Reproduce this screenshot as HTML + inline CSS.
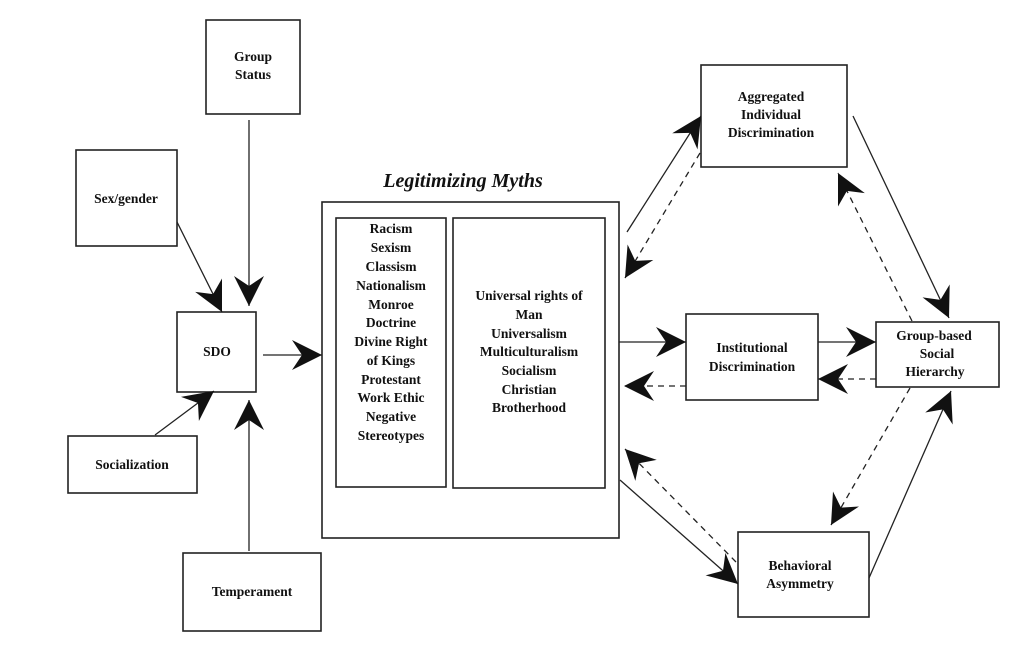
<!DOCTYPE html>
<html><head><meta charset="utf-8"><style>
body{margin:0;background:#fff}
svg{display:block}
text{font-family:"Liberation Serif",serif;font-weight:bold;font-size:13.5px;fill:#111;text-anchor:middle}
</style></head><body>
<svg width="1024" height="651" viewBox="0 0 1024 651" xmlns="http://www.w3.org/2000/svg">
<defs>
<marker id="a" markerUnits="userSpaceOnUse" markerWidth="44" markerHeight="44" refX="0" refY="0" viewBox="-34 -22 44 44" orient="auto">
<path d="M0,0 L-30,-15 L-20,0 L-30,15 Z" fill="#111"/>
</marker>
</defs>
<g fill="none" stroke="#222" stroke-width="1.6">
<rect x="206" y="20" width="94" height="94"/>
<rect x="76" y="150" width="101" height="96"/>
<rect x="177" y="312" width="79" height="80"/>
<rect x="68" y="436" width="129" height="57"/>
<rect x="183" y="553" width="138" height="78"/>
<rect x="322" y="202" width="297" height="336"/>
<rect x="336" y="218" width="110" height="269"/>
<rect x="453" y="218" width="152" height="270"/>
<rect x="701" y="65" width="146" height="102"/>
<rect x="686" y="314" width="132" height="86"/>
<rect x="876" y="322" width="123" height="65"/>
<rect x="738" y="532" width="131" height="85"/>
</g>
<g stroke="#222" stroke-width="1.3" fill="none" marker-end="url(#a)">
<line x1="249" y1="120" x2="249" y2="306"/>
<line x1="177" y1="222" x2="222" y2="312"/>
<line x1="155" y1="435" x2="214" y2="391"/>
<line x1="249" y1="551" x2="249" y2="400"/>
<line x1="263" y1="355" x2="322" y2="355"/>
<line x1="627" y1="232" x2="701" y2="116"/>
<line x1="853" y1="116" x2="949" y2="318"/>
<line x1="619" y1="342" x2="686" y2="342"/>
<line x1="818" y1="342" x2="876" y2="342"/>
<line x1="620" y1="480" x2="738" y2="584"/>
<line x1="869" y1="578" x2="951" y2="391"/>
</g>
<g stroke="#222" stroke-width="1.3" fill="none" stroke-dasharray="6,5" marker-end="url(#a)">
<line x1="700" y1="153" x2="625" y2="278"/>
<line x1="912" y1="321" x2="838" y2="173"/>
<line x1="876" y1="379" x2="818" y2="379"/>
<line x1="686" y1="386" x2="624" y2="386"/>
<line x1="736" y1="562" x2="625" y2="449"/>
<line x1="910" y1="388" x2="831" y2="525"/>
</g>
<text x="253" y="61">Group</text><text x="253" y="79">Status</text>
<text x="126" y="203">Sex/gender</text>
<text x="217" y="356">SDO</text>
<text x="132" y="469">Socialization</text>
<text x="252" y="596">Temperament</text>
<text x="463" y="187" style="font-size:20px;font-style:italic">Legitimizing Myths</text>
<g>
<text x="391" y="233">Racism</text>
<text x="391" y="252">Sexism</text>
<text x="391" y="271">Classism</text>
<text x="391" y="290">Nationalism</text>
<text x="391" y="309">Monroe</text>
<text x="391" y="327">Doctrine</text>
<text x="391" y="346">Divine Right</text>
<text x="391" y="365">of Kings</text>
<text x="391" y="384">Protestant</text>
<text x="391" y="402">Work Ethic</text>
<text x="391" y="421">Negative</text>
<text x="391" y="440">Stereotypes</text>
</g>
<g>
<text x="529" y="300">Universal rights of</text>
<text x="529" y="319">Man</text>
<text x="529" y="338">Universalism</text>
<text x="529" y="356">Multiculturalism</text>
<text x="529" y="375">Socialism</text>
<text x="529" y="394">Christian</text>
<text x="529" y="412">Brotherhood</text>
</g>
<text x="771" y="101">Aggregated</text><text x="771" y="119">Individual</text><text x="771" y="137">Discrimination</text>
<text x="752" y="352">Institutional</text><text x="752" y="371">Discrimination</text>
<text x="934" y="340">Group-based</text><text x="937" y="358">Social</text><text x="935" y="376">Hierarchy</text>
<text x="800" y="570">Behavioral</text><text x="800" y="588">Asymmetry</text>
</svg>
</body></html>
